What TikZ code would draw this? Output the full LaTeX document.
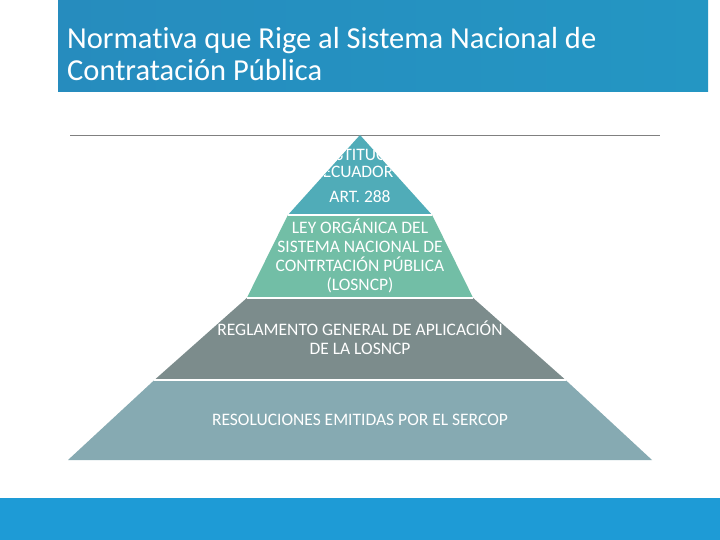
\documentclass[tikz,border=0pt]{standalone}
\usepackage{fontspec}
\setmainfont{Carlito}[Ligatures=NoCommon]
\definecolor{tbL}{RGB}{38,140,190}
\definecolor{tbR}{RGB}{36,150,195}
\definecolor{bot}{RGB}{30,155,214}
\definecolor{c1}{RGB}{80,172,184}
\definecolor{c2}{RGB}{114,190,166}
\definecolor{c3}{RGB}{124,140,140}
\definecolor{c4}{RGB}{134,170,178}
\begin{document}
\begin{tikzpicture}[x=1pt,y=-1pt,
  lbl/.style={text=white,align=center,inner sep=0pt,font=\fontsize{17.5}{19}\selectfont}]
\useasboundingbox (0,0) rectangle (720,540);
\fill[white] (0,0) rectangle (720,540);
\fill[left color=tbL,right color=tbR] (58,0) rectangle (708,92);
\node[anchor=west,text=white,align=left,inner sep=0pt,font=\fontsize{30.5}{32}\selectfont] (title) at (67,54) {Normativa que Rige al Sistema Nacional de\\Contratación Pública};
\draw[gray,line width=1pt] (70,136) -- (660,136);
\fill[bot] (0,498) rectangle (720,540);
\coordinate (A) at (360,135);
\fill[c4] (154.4,380) -- (565.6,380) -- (652,460) -- (68,460) -- cycle;
\fill[c3] (246.8,298) -- (473.2,298) -- (565.6,380) -- (154.4,380) -- cycle;
\fill[c2] (287.9,215) -- (432.1,215) -- (473.2,298) -- (246.8,298) -- cycle;
\fill[c1] (A) -- (432.1,215) -- (287.9,215) -- cycle;
\draw[white,line width=1.5pt] (287.9,215) -- (432.1,215) (246.8,298) -- (473.2,298) (154.4,380) -- (565.6,380);
\begin{scope}
\clip (A) -- (432.1,215) -- (287.9,215) -- cycle;
\node[lbl] (t1) at (358,153) {CONSTITUCIÓN};
\node[lbl] (t1b) at (358,172) {ECUADOR};
\end{scope}
\node[lbl] (t1c) at (360,197) {ART. 288};
\node[lbl] (t2) at (360,256) {LEY ORGÁNICA DEL\\SISTEMA NACIONAL DE\\CONTRTACIÓN PÚBLICA\\(LOSNCP)};
\node[lbl] (t3) at (360,338) {REGLAMENTO GENERAL DE APLICACIÓN\\DE LA LOSNCP};
\node[lbl] (t4) at (360,420) {RESOLUCIONES EMITIDAS POR EL SERCOP};
\end{tikzpicture}
\end{document}
